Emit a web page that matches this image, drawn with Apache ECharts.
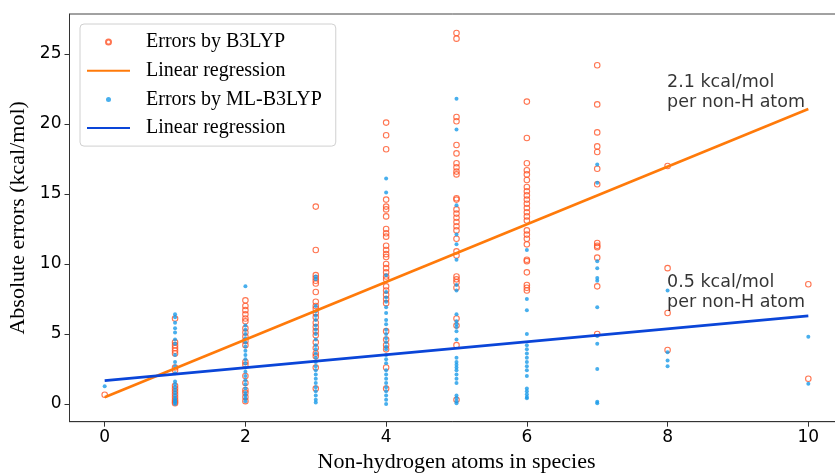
<!DOCTYPE html>
<html>
<head>
<meta charset="utf-8">
<script src="https://cdn.jsdelivr.net/npm/echarts@6/dist/echarts.min.js"></script>
<style>html,body{margin:0;padding:0;background:#fff}#c{width:835px;height:474px}</style>
</head>
<body>
<div id="c"></div>
<script>
// ---- data ----
const atomCounts = [0, 1, 2, 3, 4, 5, 6, 7, 8, 10];
const b3lypErrors = [
  [0.66],
  [6.1, 4.4, 4.2, 4.0, 3.8, 3.6, 2.6, 2.4, 1.3, 1.1, 0.9, 0.7, 0.5, 0.3, 0.15, 0.05],
  [7.4, 7.0, 6.7, 6.4, 6.1, 5.9, 5.4, 5.1, 4.8, 4.5, 4.2, 3.0, 2.8, 2.0, 1.5, 1.0, 0.8, 0.5, 0.2],
  [14.1, 11.0, 9.2, 9.0, 8.8, 8.6, 8.0, 7.3, 7.0, 6.8, 6.5, 6.2, 5.8, 5.5, 5.2, 4.9, 4.4, 4.0, 3.6, 3.4, 2.6, 1.1],
  [20.1, 19.2, 18.2, 14.6, 14.1, 13.9, 13.4, 12.5, 12.2, 11.95, 11.3, 11.0, 10.7, 10.5, 10.0, 9.7, 9.4, 9.1, 8.9, 8.4, 8.1, 7.8, 7.5, 7.2, 5.2, 4.6, 4.2, 3.9, 2.6, 1.1],
  [26.5, 26.1, 20.5, 20.2, 18.5, 17.9, 17.2, 16.9, 16.6, 16.4, 14.7, 14.6, 13.9, 13.6, 13.3, 13.0, 12.7, 12.4, 11.8, 10.9, 10.6, 9.1, 8.9, 8.7, 8.3, 6.1, 5.6, 4.2, 0.3],
  [21.6, 19.0, 17.2, 16.7, 16.4, 16.0, 15.5, 15.2, 14.9, 14.6, 14.3, 14.0, 13.7, 13.4, 13.1, 12.4, 12.1, 11.8, 11.4, 10.3, 10.2, 9.4, 8.5, 8.3, 8.1],
  [24.2, 21.4, 19.4, 18.4, 18.0, 16.8, 15.7, 11.5, 11.3, 11.2, 10.45, 8.4, 5.0],
  [17.0, 9.7, 6.5, 3.85],
  [8.55, 1.8]
];
const mlB3lypErrors = [
  [1.26],
  [6.4, 6.2, 5.8, 5.4, 5.1, 4.6, 4.3, 3.5, 3.0, 2.7, 2.2, 1.6, 1.4, 1.2, 1.0, 0.8, 0.6, 0.4, 0.3, 0.2, 0.1, 0.0],
  [8.4, 5.6, 5.3, 5.0, 4.7, 4.4, 4.1, 3.8, 3.5, 3.2, 2.9, 2.6, 2.3, 2.0, 1.7, 1.4, 1.1, 0.8, 0.6, 0.4, 0.2],
  [9.1, 8.9, 7.0, 6.6, 6.3, 6.0, 5.6, 5.3, 5.0, 4.6, 4.2, 3.9, 3.6, 3.3, 3.0, 2.7, 2.4, 2.1, 1.8, 1.5, 1.2, 0.9, 0.6, 0.3, 0.1],
  [16.1, 15.1, 9.2, 8.0, 7.6, 7.3, 6.9, 6.5, 6.0, 5.7, 5.3, 5.0, 4.7, 4.4, 4.1, 3.9, 3.5, 3.2, 2.9, 2.4, 2.1, 1.8, 1.5, 1.2, 0.9, 0.6, 0.3, 0.0],
  [21.8, 19.6, 14.2, 12.1, 11.4, 10.3, 8.5, 8.1, 6.4, 5.9, 5.7, 5.5, 5.2, 4.6, 3.3, 3.0, 2.8, 2.6, 2.4, 2.1, 1.8, 1.5, 0.6, 0.4, 0.2, 0.05],
  [11.0, 7.5, 6.7, 5.0, 4.2, 3.9, 3.6, 3.3, 3.0, 2.7, 2.4, 2.0, 1.1, 0.9, 0.7, 0.5, 0.4],
  [17.1, 15.8, 10.2, 9.7, 9.0, 8.8, 6.9, 4.85, 4.3, 2.5, 0.15, 0.05],
  [8.1, 3.7, 3.1, 2.7],
  [4.8, 1.45]
];
const regX = [0, 10];
const regB3lyp = [0.48, 21.07];
const regMlB3lyp = [1.67, 6.29];
const xTicks = [0, 2, 4, 6, 8, 10];
const yTicks = [0, 5, 10, 15, 20, 25];
const annotationTexts = ['2.1 kcal/mol\nper non-H atom', '0.5 kcal/mol\nper non-H atom'];
const annotationAnchors = [[8.0, 23.64], [8.0, 9.34]];

// ---- build ----
function pairs(groups) {
  const out = [];
  groups.forEach((vals, i) => vals.forEach(v => out.push([atomCounts[i], v])));
  return out;
}
const chart = echarts.init(document.getElementById('c'), null, {renderer: 'canvas'});
const tickFont = {fontFamily: 'DejaVu Sans', fontSize: 17, color: '#000'};
const serif = 'Liberation Serif';
const hideSym = {opacity: 0};
chart.setOption({
  animation: false,
  backgroundColor: '#fff',
  grid: {left: 69.5, top: 14, width: 774, height: 407.7, containLabel: false, outerBoundsMode: 'none',
         show: true, borderColor: '#444', borderWidth: 1},
  legend: {
    left: 80, top: 24, orient: 'vertical',
    padding: [8, 14, 8, 6],
    itemWidth: 43, itemHeight: 5, itemGap: 8.7,
    backgroundColor: 'rgba(255,255,255,0.85)',
    borderColor: '#d0d0d0', borderWidth: 1, borderRadius: 4,
    textStyle: {fontFamily: serif, fontSize: 20, color: '#000', lineHeight: 20, padding: [0, 0, 0, 11]},
    data: [
      {name: 'Errors by B3LYP'},
      {name: 'Linear regression', itemStyle: hideSym},
      {name: 'Errors by ML-B3LYP'},
      {name: 'Linear regression ', itemStyle: hideSym}
    ]
  },
  xAxis: {
    type: 'value', min: -0.5, max: 10.5,
    name: 'Non-hydrogen atoms in species', nameLocation: 'middle', nameGap: 30,
    nameTextStyle: {fontFamily: serif, fontSize: 22, color: '#000'},
    axisLine: {show: true, onZero: false, lineStyle: {color: '#333', width: 1}},
    axisTick: {show: true, length: 5, inside: false, lineStyle: {color: '#333'}, customValues: xTicks},
    axisLabel: Object.assign({margin: 7, customValues: xTicks}, tickFont),
    splitLine: {show: false}
  },
  yAxis: {
    type: 'value', min: -1.27, max: 27.86,
    name: 'Absolute errors (kcal/mol)', nameLocation: 'middle', nameGap: 36,
    nameTextStyle: {fontFamily: serif, fontSize: 22, color: '#000'},
    axisLine: {show: true, onZero: false, lineStyle: {color: '#333', width: 1}},
    axisTick: {show: true, length: 5, inside: false, lineStyle: {color: '#333'}, customValues: yTicks},
    axisLabel: Object.assign({margin: 8, customValues: yTicks}, tickFont),
    splitLine: {show: false}
  },
  series: [
    {
      name: 'Errors by B3LYP', type: 'scatter', z: 2,
      symbol: 'circle', symbolSize: 5.5,
      itemStyle: {color: 'rgba(255,255,255,0)', borderColor: '#ff5226', borderWidth: 1.1},
      data: pairs(b3lypErrors)
    },
    {
      name: 'Errors by ML-B3LYP', type: 'scatter', z: 3,
      symbol: 'circle', symbolSize: 4,
      itemStyle: {color: '#1a9be8', borderWidth: 0},
      data: pairs(mlB3lypErrors)
    },
    {
      name: 'Linear regression', type: 'line', z: 4, symbol: 'none', showSymbol: false,
      lineStyle: {color: '#ff7a0a', width: 2.6}, itemStyle: {color: '#ff7a0a'},
      data: regX.map((x, i) => [x, regB3lyp[i]])
    },
    {
      name: 'Linear regression ', type: 'line', z: 5, symbol: 'none', showSymbol: false,
      lineStyle: {color: '#0a45d8', width: 2.8}, itemStyle: {color: '#0a45d8'},
      data: regX.map((x, i) => [x, regMlB3lyp[i]])
    },
    {
      type: 'scatter', z: 6, silent: true, symbolSize: 1,
      itemStyle: {color: 'rgba(0,0,0,0)'},
      label: {
        show: true, position: [0, 0], align: 'left', verticalAlign: 'top',
        fontFamily: 'DejaVu Sans', fontSize: 17.5, lineHeight: 20, color: '#000',
        formatter: p => annotationTexts[p.dataIndex]
      },
      data: annotationAnchors
    }
  ]
});
</script>
</body>
</html>
